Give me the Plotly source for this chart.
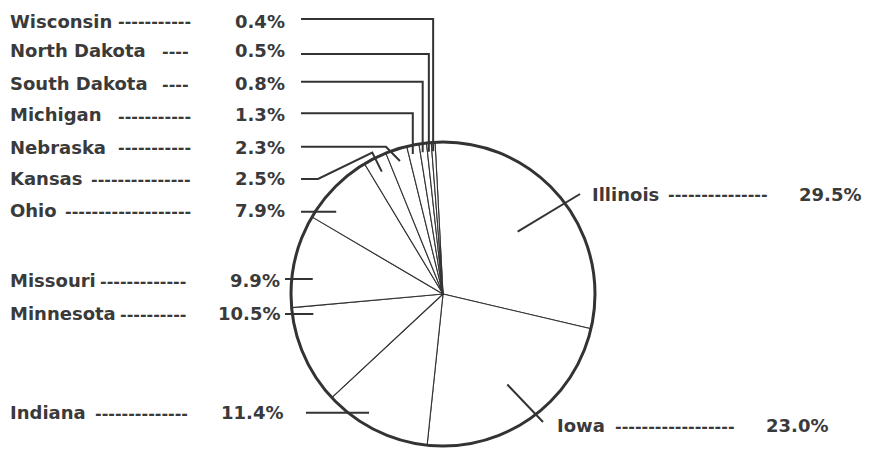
import math
import plotly.graph_objects as go

# ---------------- data ----------------
states = ["Illinois", "Iowa", "Indiana", "Minnesota", "Missouri", "Ohio",
          "Kansas", "Nebraska", "Michigan", "South Dakota", "North Dakota", "Wisconsin"]
shares = [29.5, 23.0, 11.4, 10.5, 9.9, 7.9, 2.5, 2.3, 1.3, 0.8, 0.5, 0.4]
pct_labels = [f"{v:.1f}%" for v in shares]
dash_counts = [15, 18, 14, 10, 13, 19, 15, 11, 11, 4, 4, 11]

# ---------------- layout constants (window pixels) ----------------
WIN_W, WIN_H = 875, 451
OX, OY = 8, 8                      # default page margin around the figure div
W, H = WIN_W - OX, WIN_H - OY      # figure size
CX, CY, R = 443, 294, 152
ROT = -3
INK = "#333333"
TXT = "#3a3a3a"
FONT = "DejaVu Sans"
FS = 18
DFS = 16
YOFF = 0

# per label: text row y, leader y, name x, dash end x, pct right x, leader start x, leader style
rows = [194, 425, 412, 313, 280, 210, 178, 147, 115, 83, 50, 21]
lead_y = [194, 422, 412.7, 314, 279, 211.7, 179, 146.7, 113.3, 81.7, 54, 19]
name_x = [590, 555] + [8] * 10
dash_end = [770, 737, 190, 188, 188, 193, 193, 193, 193, 191, 191, 193]
pct_right = [863, 830, 285, 282, 282, 287, 287, 287, 287, 287, 287, 287]
lead_x0 = [580, 543, 306, 285, 285, 301, 301, 301, 301, 301, 301, 301]
style = ["out", "out", "h", "h", "h", "h", "k", "d", "v", "v", "v", "v"]
inner_k = [0.64, 0.73]


def px(x):
    return (x - OX) / W


def py(y):
    return 1 - (y - OY) / H


def P(theta, k):
    t = math.radians(theta)
    return (CX + k * R * math.sin(t), CY - k * R * math.cos(t))


# mid angles of slices (clockwise from 12 o'clock)
total = sum(shares)
mids = []
cum = 0.0
for v in shares:
    mids.append(ROT + 360.0 * (cum + v / 2) / total)
    cum += v

fig = go.Figure()
fig.add_trace(go.Pie(
    labels=states, values=shares, sort=False, direction="clockwise",
    rotation=ROT, textinfo="none", hoverinfo="label+percent",
    marker=dict(colors=["white"] * len(states), line=dict(color=INK, width=1.1)),
    domain=dict(x=[px(CX - R), px(CX + R)], y=[py(CY + R), py(CY - R)]),
    showlegend=False,
))

shapes = []
# heavy outline of the pie
shapes.append(dict(type="circle", xref="paper", yref="paper",
                   x0=px(CX - R), x1=px(CX + R), y0=py(CY + R), y1=py(CY - R),
                   line=dict(color=INK, width=3)))


def path(pts):
    s = "M " + " L ".join(f"{px(x):.5f},{py(y):.5f}" for x, y in pts)
    return dict(type="path", xref="paper", yref="paper", path=s,
                line=dict(color=INK, width=2))


for i, st in enumerate(style):
    th = mids[i]
    y = lead_y[i]
    x0 = lead_x0[i]
    if st == "out":
        pts = [(x0, y), P(th, inner_k[i])]
    elif st == "h":
        xc = CX - math.sqrt(R ** 2 - (y - CY) ** 2)
        pts = [(x0, y), (xc + 21, y)]
    elif st == "v":
        xv = P(th, 1)[0]
        ye = CY - math.sqrt(R ** 2 - (xv - CX) ** 2) + 9
        pts = [(x0, y), (xv, y), (xv, ye)]
    elif st == "d":
        e = P(th, 0.92)
        pts = [(x0, y), (e[0] - 14, y), e]
    else:  # "k" hook
        pts = [(x0, y), (x0 + 17, y), P(th, 1.04), P(th, 0.9)]
    shapes.append(path(pts))

ann = []
for i, name in enumerate(states):
    y = py(rows[i] + YOFF)
    ann.append(dict(x=px(name_x[i]), y=y, xref="paper", yref="paper",
                    xanchor="left", yanchor="middle", showarrow=False,
                    text=name, font=dict(family=FONT, size=FS, color=TXT, weight="bold")))
    ann.append(dict(x=px(dash_end[i]), y=py(rows[i] + 1), xref="paper", yref="paper",
                    xanchor="right", yanchor="middle", showarrow=False,
                    text="-" * dash_counts[i],
                    font=dict(family=FONT, size=DFS, color=TXT, weight="bold")))
    ann.append(dict(x=px(pct_right[i]), y=y, xref="paper", yref="paper",
                    xanchor="right", yanchor="middle", showarrow=False,
                    text=pct_labels[i], font=dict(family=FONT, size=FS, color=TXT, weight="bold")))

fig.update_layout(
    width=W, height=H, margin=dict(l=0, r=0, t=0, b=0),
    paper_bgcolor="white", plot_bgcolor="white",
    shapes=shapes, annotations=ann, showlegend=False,
)
fig.write_html("out.html")
